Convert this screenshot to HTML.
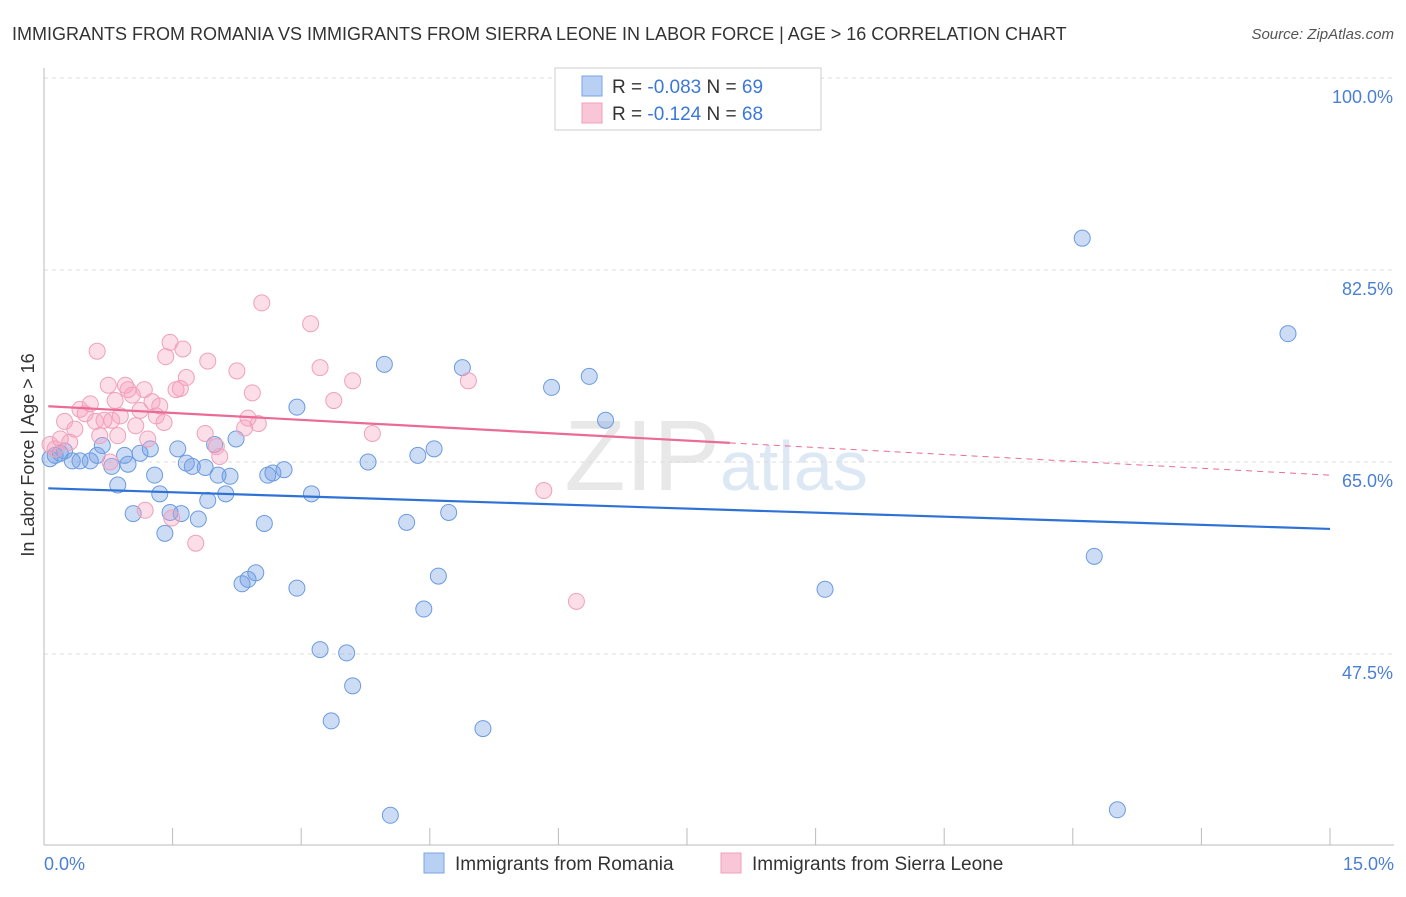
<!DOCTYPE html>
<html><head><meta charset="utf-8"><style>
body{margin:0;background:#fff;font-family:"Liberation Sans",sans-serif;}
svg text{font-family:"Liberation Sans",sans-serif;}
</style></head><body>
<svg id="chart" width="1406" height="892" viewBox="0 0 1406 892">
<text x="12" y="40" font-size="18" fill="#333">IMMIGRANTS FROM ROMANIA VS IMMIGRANTS FROM SIERRA LEONE IN LABOR FORCE | AGE &gt; 16 CORRELATION CHART</text>
<text x="1394" y="39" font-size="15" fill="#555" font-style="italic" text-anchor="end">Source: ZipAtlas.com</text>
<text x="720" y="490" font-size="100" fill="#e8e8e8" text-anchor="end" font-family="Liberation Serif">ZIP</text>
<text x="720" y="490" font-size="70" fill="#dde8f5">atlas</text>
<g id="grid"></g>
<g id="axes"></g>
<g id="points"></g>
<g id="trends"></g>
<text transform="translate(34,455) rotate(-90)" font-size="18" fill="#333" text-anchor="middle">In Labor Force | Age &gt; 16</text>
<text x="44" y="870" font-size="18" fill="#4a7fd4">0.0%</text>
<text x="1394" y="870" font-size="18" fill="#4a7fd4" text-anchor="end">15.0%</text>
<g>
<rect x="555" y="68" width="266" height="62" fill="#fff" stroke="#ccc"/>
<rect x="582" y="76" width="20" height="20" fill="#b8d0f3" stroke="#7aa5e6"/>
<rect x="582" y="103" width="20" height="20" fill="#f8c6d6" stroke="#f0a0bb"/>
<text x="612" y="93" font-size="19" fill="#333">R = <tspan fill="#3b78d8">-0.083</tspan>    N = <tspan fill="#3b78d8">69</tspan></text>
<text x="612" y="120" font-size="19" fill="#333">R =  <tspan fill="#3b78d8">-0.124</tspan>    N = <tspan fill="#3b78d8">68</tspan></text>
</g>
<g>
<rect x="424" y="853" width="20" height="20" fill="#b8d0f3" stroke="#7aa5e6"/>
<text x="455" y="870" font-size="19" fill="#333">Immigrants from Romania</text>
<rect x="721" y="853" width="20" height="20" fill="#f8c6d6" stroke="#f0a0bb"/>
<text x="752" y="870" font-size="19" fill="#333">Immigrants from Sierra Leone</text>
</g>
</svg>
<script>
const yTicks=[100,82.5,65,47.5];
const yTickLabels=["100.0%","82.5%","65.0%","47.5%"];
const blueX=[0.07,0.13,0.19,0.24,0.33,0.42,0.54,0.62,0.68,0.79,0.86,0.94,0.98,1.04,1.12,1.24,1.29,1.35,1.41,1.47,1.56,1.60,1.66,1.73,1.80,1.88,1.91,1.99,2.03,2.12,2.17,2.24,2.31,2.38,2.47,2.57,2.61,2.67,2.80,2.95,2.95,3.12,3.22,3.35,3.53,3.60,3.78,3.97,4.04,4.23,4.36,4.43,4.55,4.60,4.72,4.88,5.12,5.92,6.36,6.55,9.11,12.11,12.25,12.52,14.51];
const blueY=[65.3,65.6,65.8,66.0,65.1,65.1,65.1,65.6,66.5,64.6,62.9,65.6,64.8,60.3,65.8,66.2,63.8,62.1,58.5,60.4,66.2,60.3,64.9,64.6,59.8,64.5,61.5,66.6,63.8,62.1,63.7,67.1,53.9,54.3,54.9,59.4,63.8,64.0,64.3,53.5,70.0,62.1,47.9,41.4,47.6,44.6,65.0,73.9,32.8,59.5,65.6,51.6,66.2,54.6,60.4,73.6,40.7,71.8,72.8,68.8,53.4,85.4,56.4,33.3,76.7];
const pinkX=[0.07,0.13,0.19,0.24,0.30,0.36,0.42,0.48,0.54,0.60,0.62,0.65,0.70,0.75,0.77,0.79,0.83,0.86,0.89,0.95,0.98,1.03,1.07,1.12,1.17,1.21,1.26,1.31,1.35,1.40,1.42,1.47,1.54,1.59,1.62,1.66,1.77,1.88,1.91,2.01,2.05,2.25,2.34,2.38,2.43,2.50,2.54,3.11,3.22,3.38,3.60,3.83,4.95,5.83,6.21,1.18,1.49];
const pinkY=[66.6,66.2,67.1,68.7,66.8,68.0,69.8,69.4,70.3,68.7,75.1,67.4,68.8,72.0,65.0,68.8,70.6,67.4,69.2,72.0,71.6,71.1,68.3,69.7,71.6,67.1,70.5,69.2,70.1,68.6,74.6,75.9,71.6,71.7,75.3,72.7,57.6,67.6,74.2,66.4,65.5,73.3,68.1,69.0,71.3,68.5,79.5,77.6,73.6,70.6,72.4,67.6,72.4,62.4,52.3,60.6,59.9];
const blueTrend=[62.6,58.9];
const pinkTrend=[70.1,63.8];
const X=v=>44+v/15*1286;
const Y=v=>78+(100-v)/17.5*192;
const NS="http://www.w3.org/2000/svg";
function mk(parent,tag,attrs){const e=document.createElementNS(NS,tag);for(const k in attrs)e.setAttribute(k,attrs[k]);document.getElementById(parent).appendChild(e);return e;}
yTicks.forEach((t,i)=>{
 const l=mk('grid','line',{x1:44,x2:1394,y1:Y(t),y2:Y(t),stroke:'#ddd','stroke-dasharray':'4,4'});
 
 
 const tx=mk('grid','text',{x:1393,y:Y(t)+25,'font-size':18,fill:'#4a7fd4','text-anchor':'end'});
 tx.textContent=yTickLabels[i];
 
 
});
const ax=mk('axes','line',{x1:44,x2:44,y1:68,y2:845,stroke:'#bbb'});


const bx=mk('axes','line',{x1:44,x2:1394,y1:845,y2:845,stroke:'#bbb'});


for(let i=0;i<=10;i++){const t=mk('axes','line',{x1:X(i*1.5),x2:X(i*1.5),y1:828,y2:845,stroke:'#bbb'});
 
 }
blueX.forEach((v,i)=>{const c=mk('points','circle',{cx:X(v),cy:Y(blueY[i]),r:8,fill:'rgba(110,155,225,0.35)',stroke:'#6b9be0','stroke-width':1});
 
 });
pinkX.forEach((v,i)=>{const c=mk('points','circle',{cx:X(v),cy:Y(pinkY[i]),r:8,fill:'rgba(245,160,190,0.35)',stroke:'#f0a0bb','stroke-width':1});
 
 });
const bt=mk('trends','line',{x1:X(0.05),y1:Y(blueTrend[0]),x2:X(15),y2:Y(blueTrend[1]),stroke:'#2f72d6','stroke-width':2.2});


const py=x=>pinkTrend[0]+(pinkTrend[1]-pinkTrend[0])*x/15;
const pt=mk('trends','line',{x1:X(0.05),y1:Y(py(0.05)),x2:X(8),y2:Y(py(8)),stroke:'#ea6b95','stroke-width':2.2});


const pd=mk('trends','line',{x1:X(8),y1:Y(py(8)),x2:X(15),y2:Y(py(15)),stroke:'#ea6b95','stroke-width':1,'stroke-dasharray':'6,5'});


</script>
</body></html>
